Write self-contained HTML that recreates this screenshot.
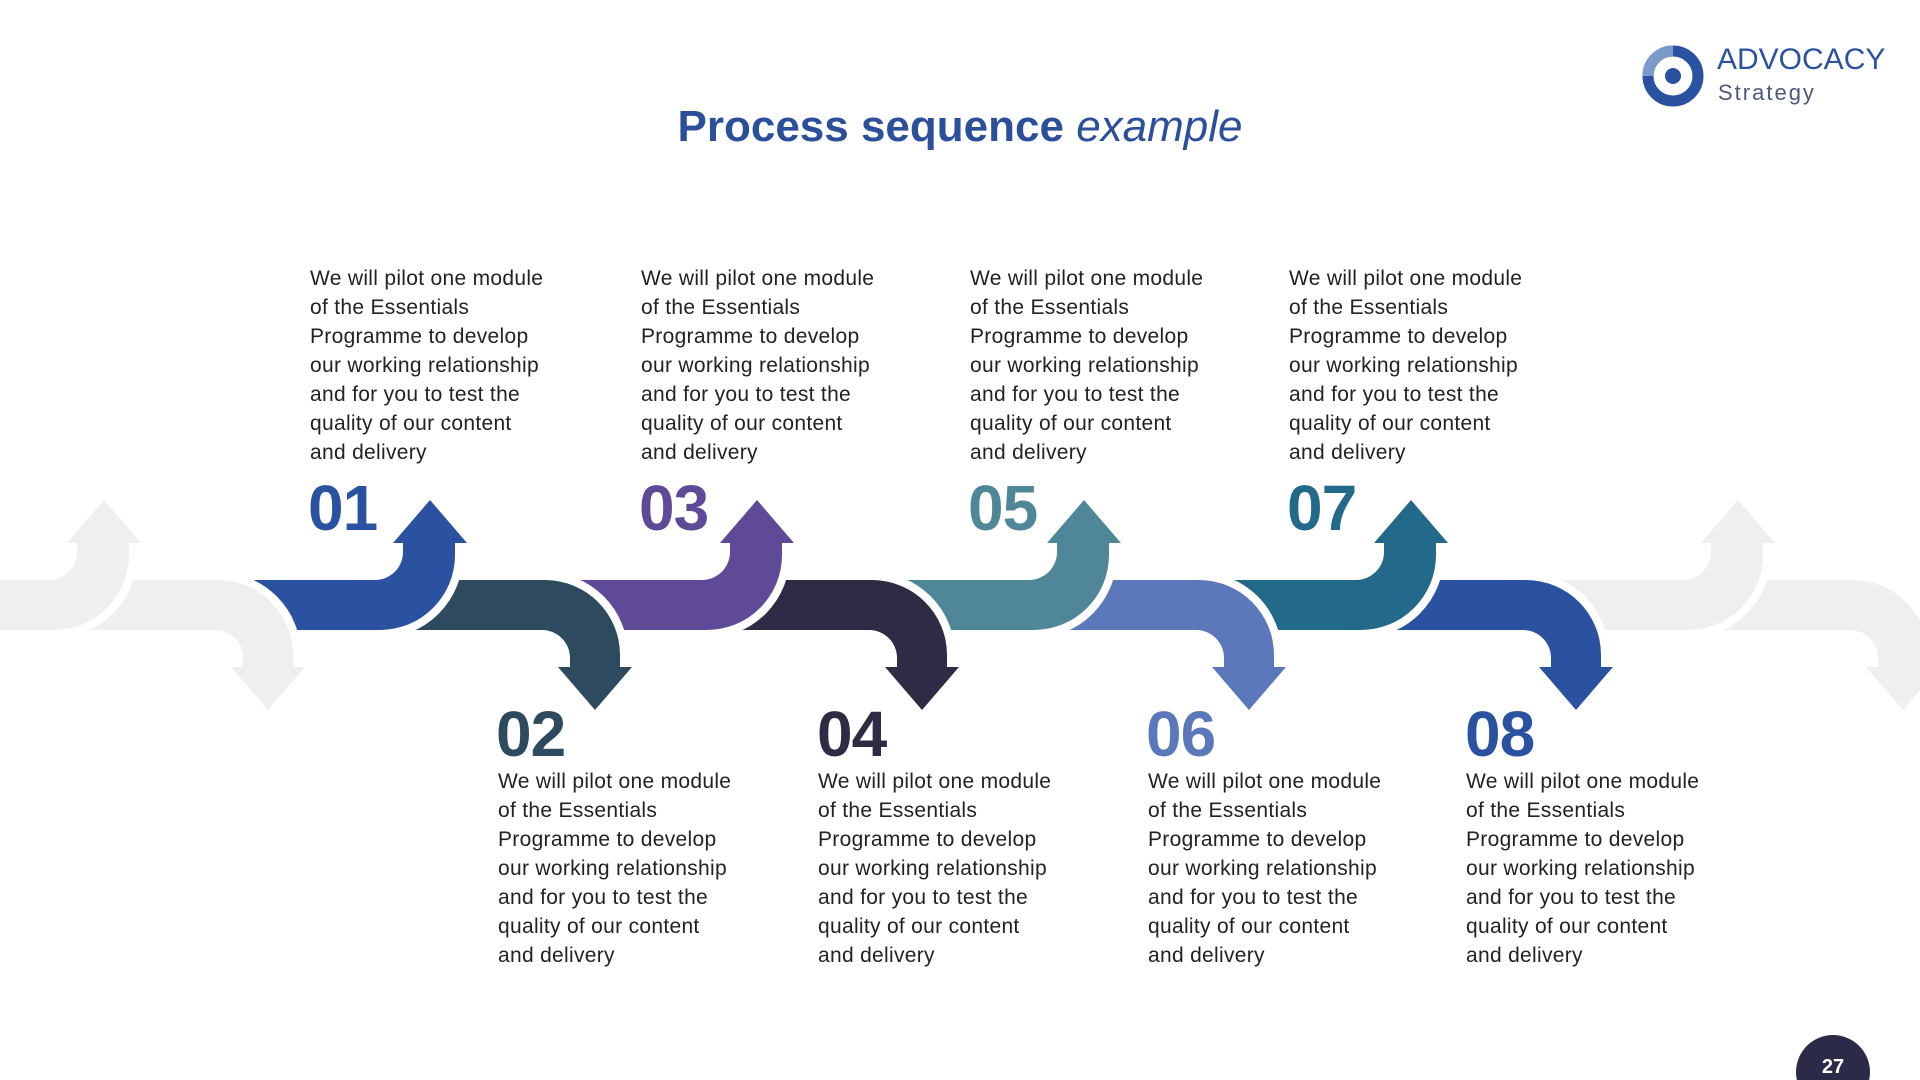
<!DOCTYPE html>
<html><head><meta charset="utf-8"><style>
html,body{margin:0;padding:0;background:#fff}
body{width:1920px;height:1080px;position:relative;overflow:hidden;font-family:"Liberation Sans",sans-serif}
.t{position:absolute;font-size:21px;letter-spacing:0.3px;line-height:29px;color:#222;width:280px;white-space:nowrap}
.n{position:absolute;font-size:64px;font-weight:bold;line-height:1;letter-spacing:-1px}
</style></head><body>
<div style="position:absolute;left:0;width:1920px;top:102px;text-align:center;font-size:44px;color:#2b4f9a"><b>Process sequence</b> <i>example</i></div>

<svg style="position:absolute;left:0;top:0" width="1920" height="1080">
<defs>
<path id="up" d="M-260,580 L-55,580 A28,28 0 0 0 -27,552 L-27,543 L-37,543 L0,500 L37,543 L25,543 L25,555 A75,75 0 0 1 -50,630 L-260,630 Z"/>
<path id="dn" d="M-250,580 L-50,580 A75,75 0 0 1 25,655 L25,667 L37,667 L0,710 L-37,667 L-25,667 L-25,658 A28,28 0 0 0 -53,630 L-250,630 Z"/>
</defs>
<g stroke="#fff" stroke-width="16" stroke-linejoin="round" paint-order="stroke">
<use href="#dn" x="1903" fill="#efefef"/>
<use href="#up" x="1738" fill="#efefef"/>
<use href="#dn" x="1576" fill="#2b52a0"/>
<use href="#up" x="1411" fill="#22698a"/>
<use href="#dn" x="1249" fill="#5b78bb"/>
<use href="#up" x="1084" fill="#4f8799"/>
<use href="#dn" x="922" fill="#2e2b45"/>
<use href="#up" x="757" fill="#5f4a98"/>
<use href="#dn" x="595" fill="#2d4a5e"/>
<use href="#up" x="430" fill="#2b52a0"/>
<use href="#dn" x="268" fill="#efefef"/>
<use href="#up" x="104" fill="#efefef"/>
</g>
<circle cx="1673" cy="76" r="25" fill="none" stroke="#2b52a0" stroke-width="11"/>
<path d="M1648,76 A25,25 0 0 1 1673,51" fill="none" stroke="#7a9acc" stroke-width="11"/>
<circle cx="1673" cy="76" r="8" fill="#2b52a0"/>
<text x="1717" y="69" font-family="Liberation Sans" font-size="30" fill="#2b52a0">ADVOCACY</text>
<text x="1718" y="100" font-family="Liberation Sans" font-size="22" letter-spacing="2" fill="#4a5a78">Strategy</text>
<circle cx="1833" cy="1072" r="37" fill="#2b2a48"/>
<text x="1833" y="1073" text-anchor="middle" font-family="Liberation Sans" font-weight="bold" font-size="20" fill="#fff">27</text>
</svg>

<div class="t" style="left:310px;top:264px">We will pilot one module<br>of the Essentials<br>Programme to develop<br>our working relationship<br>and for you to test the<br>quality of our content<br>and delivery</div>
<div class="t" style="left:641px;top:264px">We will pilot one module<br>of the Essentials<br>Programme to develop<br>our working relationship<br>and for you to test the<br>quality of our content<br>and delivery</div>
<div class="t" style="left:970px;top:264px">We will pilot one module<br>of the Essentials<br>Programme to develop<br>our working relationship<br>and for you to test the<br>quality of our content<br>and delivery</div>
<div class="t" style="left:1289px;top:264px">We will pilot one module<br>of the Essentials<br>Programme to develop<br>our working relationship<br>and for you to test the<br>quality of our content<br>and delivery</div>

<div class="n" style="left:308px;top:476px;color:#2b52a0">01</div>
<div class="n" style="left:639px;top:476px;color:#5f4a98">03</div>
<div class="n" style="left:968px;top:476px;color:#4f8799">05</div>
<div class="n" style="left:1287px;top:476px;color:#22698a">07</div>

<div class="n" style="left:496px;top:702px;color:#2d4a5e">02</div>
<div class="n" style="left:817px;top:702px;color:#2e2b45">04</div>
<div class="n" style="left:1146px;top:702px;color:#5b78bb">06</div>
<div class="n" style="left:1465px;top:702px;color:#2b52a0">08</div>

<div class="t" style="left:498px;top:767px">We will pilot one module<br>of the Essentials<br>Programme to develop<br>our working relationship<br>and for you to test the<br>quality of our content<br>and delivery</div>
<div class="t" style="left:818px;top:767px">We will pilot one module<br>of the Essentials<br>Programme to develop<br>our working relationship<br>and for you to test the<br>quality of our content<br>and delivery</div>
<div class="t" style="left:1148px;top:767px">We will pilot one module<br>of the Essentials<br>Programme to develop<br>our working relationship<br>and for you to test the<br>quality of our content<br>and delivery</div>
<div class="t" style="left:1466px;top:767px">We will pilot one module<br>of the Essentials<br>Programme to develop<br>our working relationship<br>and for you to test the<br>quality of our content<br>and delivery</div>
</body></html>
